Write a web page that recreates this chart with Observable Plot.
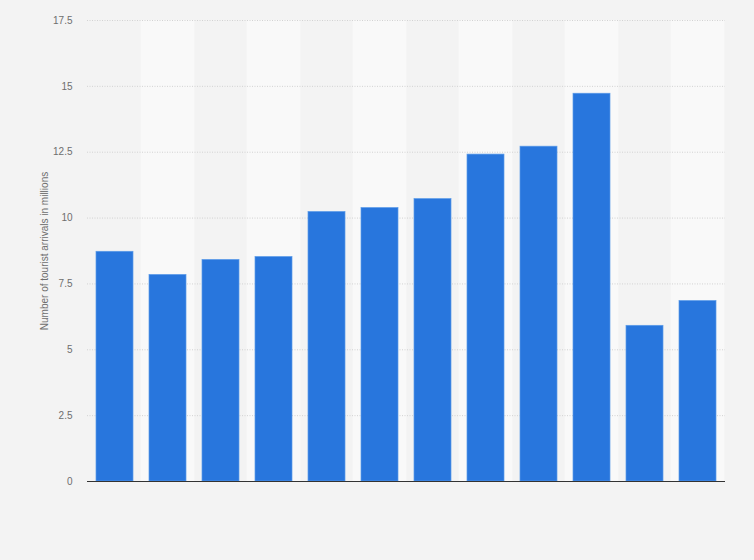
<!DOCTYPE html>
<html>
<head>
<meta charset="utf-8">
<script src="https://cdn.jsdelivr.net/npm/d3@7"></script>
<script src="https://cdn.jsdelivr.net/npm/@observablehq/plot@0.6"></script>
<style>
  html, body { margin: 0; padding: 0; background: #f3f3f3; }
  #chart { width: 754px; height: 560px; }
</style>
</head>
<body>
<div id="chart"></div>
<script>
const categories = ["2010","2011","2012","2013","2014","2015","2016","2017","2018","2019","2020","2021"];
const values = [8.72, 7.84, 8.41, 8.52, 10.23, 10.38, 10.72, 12.41, 12.71, 14.72, 5.91, 6.85];
const yTicks = [0, 2.5, 5, 7.5, 10, 12.5, 15, 17.5];
const yLabel = "Number of tourist arrivals in millions";

const data = categories.map((c, i) => ({category: c, value: values[i], idx: i}));
const pad = 0.31;
const step = (725 - 87) / categories.length;
const bandInset = -(pad * step) / 2;

const chart = Plot.plot({
  width: 754,
  height: 560,
  marginLeft: 87,
  marginRight: 29,
  marginTop: 20,
  marginBottom: 79,
  style: {background: "#f3f3f3", fontFamily: "Arial, 'Liberation Sans', sans-serif", fontSize: "10px", color: "#6e6e6e"},
  x: {domain: categories, paddingInner: pad, paddingOuter: pad / 2, axis: null},
  y: {domain: [0, 17.5], ticks: yTicks, label: null},
  marks: [
    Plot.barY(data.filter(d => d.idx % 2 === 1), {
      x: "category", y1: 0, y2: 17.5,
      fill: "#f9f9f9", insetLeft: bandInset, insetRight: bandInset
    }),
    Plot.ruleY(yTicks.filter(t => t > 0), {stroke: "#d2d2d2", strokeWidth: 1, strokeDasharray: "1,1.5"}),
    Plot.axisY({
      ticks: yTicks, tickSize: 0, tickPadding: 15,
      tickFormat: d => String(d), fill: "#6e6e6e", fontSize: 10,
      label: yLabel, labelAnchor: "center", labelArrow: "none", labelOffset: 47
    }),
    Plot.barY(data, {
      x: "category", y: "value",
      fill: "#2876dd", stroke: "#5b9be8", strokeWidth: 0.7
    }),
    Plot.ruleY([0], {stroke: "#333", strokeWidth: 1.2})
  ]
});
document.getElementById("chart").append(chart);
</script>
</body>
</html>
